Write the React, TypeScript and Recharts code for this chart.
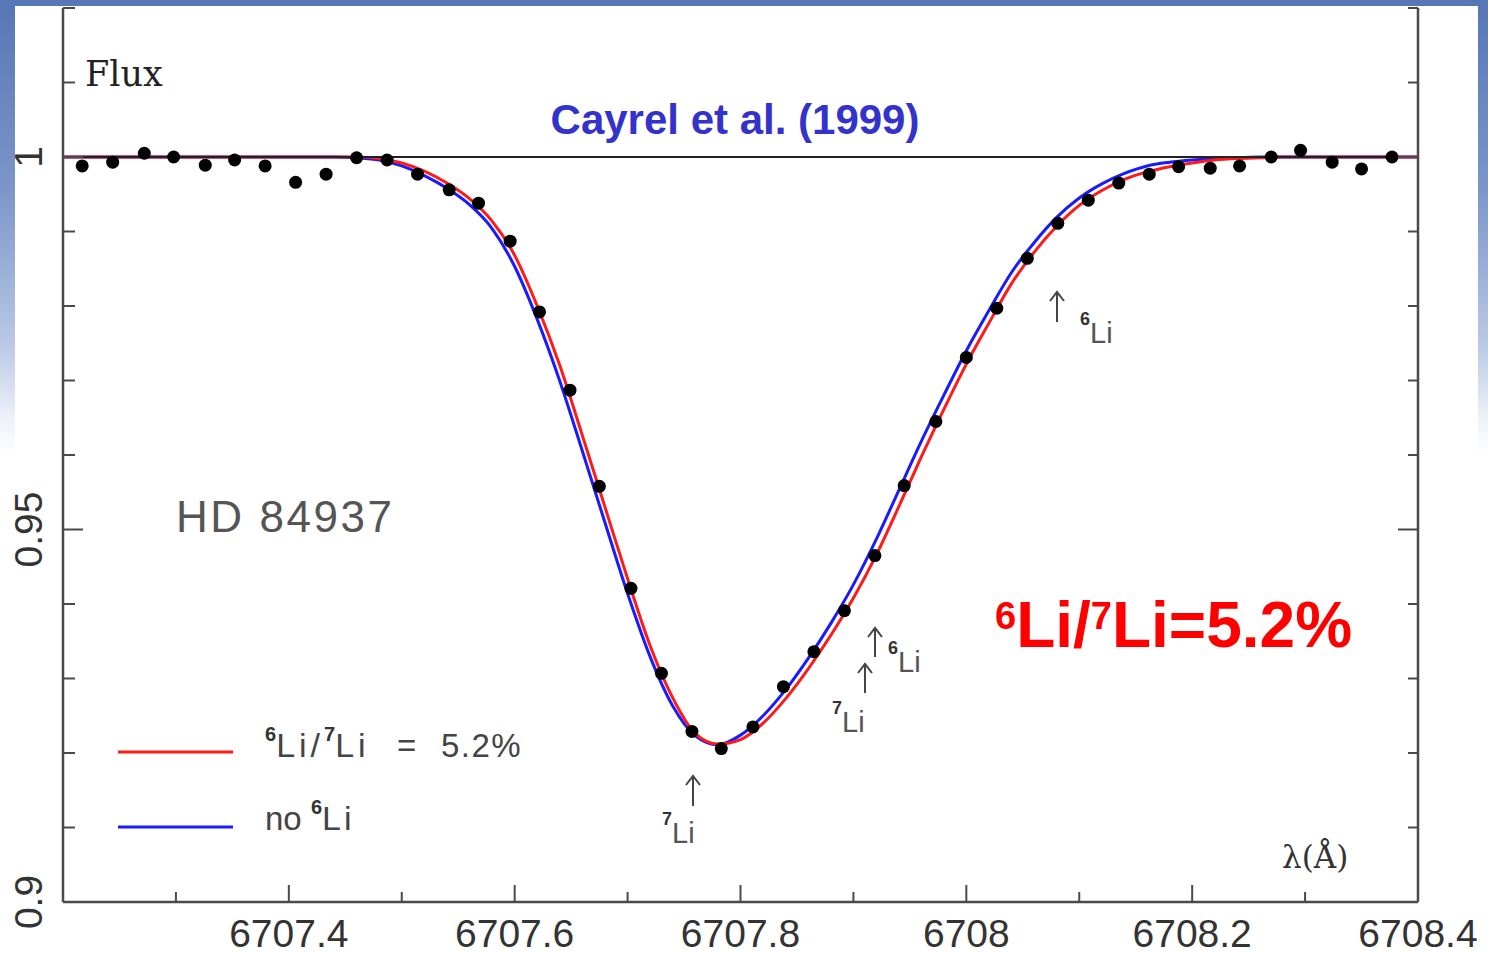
import React from 'react';
import { ComposedChart, Line, Scatter, XAxis, YAxis, ReferenceLine } from 'recharts';

// Observed spectrum (HD 84937)
const obsWave = [6707.217, 6707.244, 6707.272, 6707.298, 6707.326, 6707.352, 6707.379, 6707.406, 6707.433, 6707.460, 6707.487, 6707.514, 6707.542, 6707.568, 6707.596, 6707.622, 6707.649, 6707.675, 6707.703, 6707.730, 6707.757, 6707.783, 6707.811, 6707.838, 6707.865, 6707.892, 6707.919, 6707.945, 6707.973, 6708.000, 6708.027, 6708.054, 6708.081, 6708.108, 6708.135, 6708.162, 6708.188, 6708.216, 6708.242, 6708.270, 6708.296, 6708.324, 6708.350, 6708.377];
const obsFlux = [0.9988, 0.9993, 1.0005, 1.0000, 0.9989, 0.9996, 0.9988, 0.9966, 0.9977, 0.9999, 0.9996, 0.9977, 0.9956, 0.9938, 0.9887, 0.9792, 0.9687, 0.9558, 0.9421, 0.9307, 0.9229, 0.9206, 0.9235, 0.9289, 0.9336, 0.9391, 0.9465, 0.9559, 0.9645, 0.9731, 0.9797, 0.9864, 0.9911, 0.9942, 0.9965, 0.9977, 0.9987, 0.9985, 0.9988, 1.0000, 1.0009, 0.9993, 0.9984, 1.0000];

// Synthetic profiles
const modelWave = [6707.20, 6707.22, 6707.24, 6707.26, 6707.28, 6707.30, 6707.32, 6707.34, 6707.36, 6707.38, 6707.40, 6707.42, 6707.44, 6707.46, 6707.48, 6707.50, 6707.52, 6707.54, 6707.56, 6707.58, 6707.60, 6707.62, 6707.64, 6707.66, 6707.68, 6707.70, 6707.72, 6707.74, 6707.76, 6707.78, 6707.80, 6707.82, 6707.84, 6707.86, 6707.88, 6707.90, 6707.92, 6707.94, 6707.96, 6707.98, 6708.00, 6708.02, 6708.04, 6708.06, 6708.08, 6708.10, 6708.12, 6708.14, 6708.16, 6708.18, 6708.20, 6708.22, 6708.24, 6708.26, 6708.28, 6708.30, 6708.32, 6708.34, 6708.36, 6708.38, 6708.40];
const fluxLi6 = [1.0, 1.0, 1.0, 1.0, 1.0, 1.0, 1.0, 1.0, 1.0, 1.0, 1.0, 1.0, 1.0, 1.0, 0.9998, 0.9992, 0.9981, 0.9965, 0.9944, 0.9914, 0.9868, 0.9800, 0.9720, 0.9626, 0.9530, 0.9434, 0.9344, 0.9274, 0.9226, 0.9212, 0.9218, 0.9240, 0.9273, 0.9313, 0.9358, 0.9408, 0.9465, 0.9530, 0.9597, 0.9661, 0.9722, 0.9777, 0.9830, 0.9872, 0.9907, 0.9935, 0.9955, 0.9970, 0.9980, 0.9987, 0.9992, 0.9996, 0.9998, 0.9999, 1.0, 1.0, 1.0, 1.0, 1.0, 1.0, 1.0];
const fluxNoLi6 = [1.0, 1.0, 1.0, 1.0, 1.0, 1.0, 1.0, 1.0, 1.0, 1.0, 1.0, 1.0, 1.0, 0.9999, 0.9996, 0.9988, 0.9975, 0.9958, 0.9936, 0.9904, 0.9853, 0.9782, 0.9699, 0.9605, 0.9509, 0.9414, 0.9329, 0.9263, 0.9223, 0.9211, 0.9224, 0.9250, 0.9285, 0.9327, 0.9374, 0.9426, 0.9486, 0.9552, 0.9618, 0.9680, 0.9740, 0.9794, 0.9845, 0.9885, 0.9919, 0.9945, 0.9964, 0.9978, 0.9988, 0.9993, 0.9996, 0.9998, 0.9999, 1.0, 1.0, 1.0, 1.0, 1.0, 1.0, 1.0, 1.0];

// Axis ticks
const xTicks = [6707.2, 6707.3, 6707.4, 6707.5, 6707.6, 6707.7, 6707.8, 6707.9, 6708.0, 6708.1, 6708.2, 6708.3, 6708.4];
const xLabelTicks = [6707.4, 6707.6, 6707.8, 6708.0, 6708.2, 6708.4];
const yTicks = [0.90, 0.91, 0.92, 0.93, 0.94, 0.95, 0.96, 0.97, 0.98, 0.99, 1.00, 1.01, 1.02];
const yLabelTicks = [0.9, 0.95, 1.0];

const obsData = obsWave.map((w, i) => ({ wave: w, flux: obsFlux[i] }));
const modelData = modelWave.map((w, i) => ({ wave: w, li6: fluxLi6[i], noli6: fluxNoLi6[i] }));

const near = (a: number, list: number[]) => list.some((b) => Math.abs(a - b) < 1e-6);
const fmtX = (v: number) => String(Number(v.toFixed(1)));
const fmtY = (v: number) => String(Number(v.toFixed(2)));

const AXIS = '#4a4a4a';
const SANS = '"Liberation Sans", Arial, Helvetica, sans-serif';
const SERIF = '"DejaVu Serif", "Liberation Serif", serif';

const BottomTick = (p: any) => {
  const { x, y, payload } = p;
  const v = payload.value;
  const major = near(v, xLabelTicks);
  return (
    <g>
      <line x1={x} y1={y} x2={x} y2={y - (major ? 17 : 10)} stroke={AXIS} strokeWidth={2} />
      {major && (
        <text x={x} y={y + 45} textAnchor="middle" fontSize={39} fill="#333" fontFamily={SANS}>
          {fmtX(v)}
        </text>
      )}
    </g>
  );
};

const TopTick = (p: any) => {
  const { x, y, payload } = p;
  const major = near(payload.value, xLabelTicks);
  return <line x1={x} y1={y} x2={x} y2={y + (major ? 17 : 9)} stroke={AXIS} strokeWidth={2} />;
};

const LeftTick = (p: any) => {
  const { x, y, payload } = p;
  const v = payload.value;
  const major = near(v, yLabelTicks);
  return (
    <g>
      <line x1={x} y1={y} x2={x + (major ? 20 : 12)} y2={y} stroke={AXIS} strokeWidth={2} />
      {major && (
        <text x={42} y={y} transform={`rotate(-90 42 ${y})`} textAnchor="middle" fontSize={39} fill="#333" fontFamily={SANS}>
          {fmtY(v)}
        </text>
      )}
    </g>
  );
};

const RightTick = (p: any) => {
  const { x, y, payload } = p;
  const major = near(payload.value, yLabelTicks);
  return <line x1={x} y1={y} x2={x - (major ? 20 : 10)} y2={y} stroke={AXIS} strokeWidth={2} />;
};

const Dot = (p: any) => <circle cx={p.cx} cy={p.cy} r={6.5} fill="#000" />;

const Arrow = ({ x, y1, y2 }: { x: number; y1: number; y2: number }) => (
  <path d={`M${x},${y2} L${x},${y1} M${x - 7},${y1 + 9} L${x},${y1} L${x + 7},${y1 + 9}`} stroke="#444" strokeWidth={2} fill="none" />
);

const IsoLabel = ({ x, y, iso }: { x: number; y: number; iso: string }) => (
  <text x={x} y={y} fontFamily={SANS} fill="#555">
    <tspan fontSize={18} fontWeight="bold" fill="#333" dy={-18}>{iso}</tspan>
    <tspan fontSize={29} dy={18}>Li</tspan>
  </text>
);

export default function App() {
  return (
    <div
      style={{
        position: 'absolute',
        left: 0,
        top: 0,
        width: 1488,
        height: 954,
        overflow: 'hidden',
        background: 'linear-gradient(to bottom, #5676b6 0%, #7c96c9 20%, #b9c8e4 36%, #eef2f9 44%, #ffffff 48%)',
      }}
    >
      <div style={{ position: 'absolute', left: 15, top: 6, width: 1463, height: 948, background: '#fff' }} />
      <div style={{ position: 'absolute', left: 0, top: 0 }}>
        <ComposedChart width={1488} height={954} margin={{ top: 8, right: 0, bottom: 0, left: 0 }}>
          <XAxis
            dataKey="wave"
            type="number"
            domain={[6707.2, 6708.4]}
            allowDataOverflow
            ticks={xTicks}
            interval={0}
            height={52}
            tickSize={0}
            tickMargin={0}
            tickLine={false}
            axisLine={{ stroke: AXIS, strokeWidth: 2.5 }}
            tick={<BottomTick />}
          />
          <XAxis
            xAxisId="top"
            orientation="top"
            dataKey="wave"
            type="number"
            domain={[6707.2, 6708.4]}
            allowDataOverflow
            ticks={xTicks}
            interval={0}
            height={0}
            tickSize={0}
            tickMargin={0}
            tickLine={false}
            axisLine={{ stroke: AXIS, strokeWidth: 2.5 }}
            tick={<TopTick />}
          />
          <YAxis
            type="number"
            domain={[0.9, 1.02]}
            allowDataOverflow
            ticks={yTicks}
            interval={0}
            width={63}
            tickSize={0}
            tickMargin={0}
            tickLine={false}
            axisLine={{ stroke: AXIS, strokeWidth: 2.5 }}
            tick={<LeftTick />}
          />
          <YAxis
            yAxisId="right"
            orientation="right"
            type="number"
            domain={[0.9, 1.02]}
            allowDataOverflow
            ticks={yTicks}
            interval={0}
            width={70}
            tickSize={0}
            tickMargin={0}
            tickLine={false}
            axisLine={{ stroke: AXIS, strokeWidth: 2.5 }}
            tick={<RightTick />}
          />
          <Line data={modelData} dataKey="noli6" type="monotone" stroke="#1a1aff" strokeWidth={3} dot={false} activeDot={false} isAnimationActive={false} />
          <Line data={modelData} dataKey="li6" type="monotone" stroke="#ff1a1a" strokeWidth={3} dot={false} activeDot={false} isAnimationActive={false} />
          <ReferenceLine y={1} stroke="#222" strokeWidth={1.8} />
          <Scatter data={obsData} dataKey="flux" shape={<Dot />} isAnimationActive={false} />
        </ComposedChart>
      </div>
      <svg width={1488} height={954} style={{ position: 'absolute', left: 0, top: 0, pointerEvents: 'none' }}>
        <text x={85} y={86} fontFamily={SERIF} fontSize={35} fill="#222">Flux</text>
        <text x={735} y={134} textAnchor="middle" fontFamily={SANS} fontWeight="bold" fontSize={42} fill="#3333cc">
          Cayrel et al. (1999)
        </text>
        <text x={176} y={532} fontFamily={SANS} fontSize={44} fill="#555" textLength={216} lengthAdjust="spacing">
          HD 84937
        </text>
        <text x={995} y={647} fontFamily={SANS} fontWeight="bold" fill="#ff0000">
          <tspan fontSize={38} dy={-18}>6</tspan>
          <tspan fontSize={64} dy={18}>Li/</tspan>
          <tspan fontSize={38} dy={-18}>7</tspan>
          <tspan fontSize={64} dy={18}>Li=5.2%</tspan>
        </text>

        {/* legend */}
        <line x1={118} y1={752} x2={233} y2={752} stroke="#ff1a1a" strokeWidth={3} />
        <line x1={118} y1={827} x2={233} y2={827} stroke="#1a1aff" strokeWidth={3} />
        <text x={265} y={757} fontFamily={SANS} fill="#444">
          <tspan fontSize={20} fontWeight="bold" fill="#333" dy={-16}>6</tspan>
          <tspan fontSize={34} dy={16} letterSpacing={4}>Li/</tspan>
          <tspan fontSize={20} fontWeight="bold" fill="#333" dy={-16}>7</tspan>
          <tspan fontSize={34} dy={16} letterSpacing={4}>Li</tspan>
          <tspan x={397} fontSize={33}>=</tspan>
          <tspan x={441} fontSize={33} letterSpacing={1.5}>5.2%</tspan>
        </text>
        <text x={265} y={830} fontFamily={SANS} fill="#444">
          <tspan fontSize={33}>no </tspan>
          <tspan fontSize={20} fontWeight="bold" fill="#333" dy={-16}>6</tspan>
          <tspan fontSize={34} dy={16} letterSpacing={3}>Li</tspan>
        </text>

        {/* line identifications */}
        <Arrow x={693} y1={776} y2={806} />
        <IsoLabel x={662} y={843} iso="7" />
        <Arrow x={865} y1={664} y2={693} />
        <IsoLabel x={832} y={732} iso="7" />
        <Arrow x={875} y1={628} y2={657} />
        <IsoLabel x={888} y={672} iso="6" />
        <Arrow x={1057} y1={292} y2={322} />
        <IsoLabel x={1080} y={343} iso="6" />

        <text x={1282} y={868} fontFamily={SERIF} fontSize={31} fill="#333">λ(Å)</text>
      </svg>
    </div>
  );
}
